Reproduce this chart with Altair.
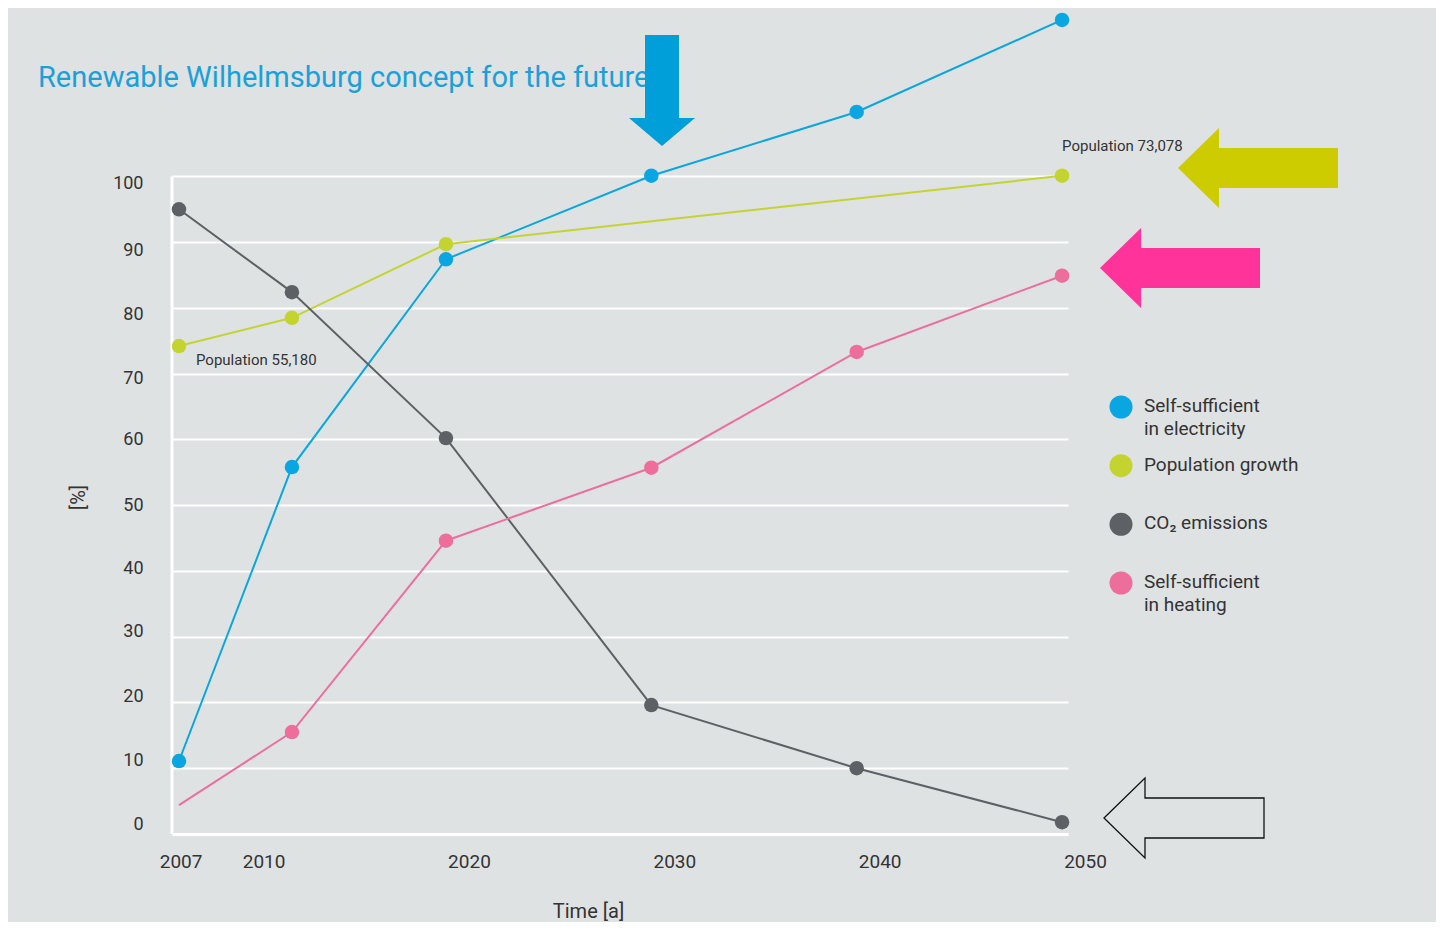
import altair as alt
import pandas as pd

# ---------------- data ----------------
title_text = "Renewable Wilhelmsburg concept for the future"
years = [2007, 2012.5, 2020, 2030, 2040, 2050]
electricity = [11.1, 55.8, 87.4, 100.1, 109.8, 123.8]
population = [74.2, 78.5, 89.7, None, None, 100.1]
co2 = [95.0, 82.4, 60.2, 19.6, 10.0, 1.8]
heating = [4.4, 15.5, 44.6, 55.7, 73.3, 84.9]
heating_marker = [False, True, True, True, True, True]

series_names = ["Self-sufficient in electricity", "Population growth",
                "CO2 emissions", "Self-sufficient in heating"]
legend_labels = ["Self-sufficient\nin electricity", "Population growth",
                 "CO\u2082 emissions", "Self-sufficient\nin heating"]
series_colors = ["#0aa6e2", "#c3d431", "#5d6065", "#ee6e9b"]

x_ticks = [2007, 2010, 2020, 2030, 2040, 2050]
y_ticks = list(range(0, 101, 10))
pop_start_label = "Population 55,180"
pop_end_label = "Population 73,078"
x_title = "Time [a]"
y_title = "[%]"

# ---------------- table ----------------
rows = []
for name, vals in zip(series_names, [electricity, population, co2, heating]):
    for i, (yr, v) in enumerate(zip(years, vals)):
        if v is None:
            continue
        marker = heating_marker[i] if name == series_names[3] else True
        rows.append({"series": name, "year": yr, "value": v, "marker": marker})
df = pd.DataFrame(rows)

legend_df = pd.DataFrame({"series": series_names, "label": legend_labels})
ann_df = pd.DataFrame([
    {"year": years[0], "value": population[0], "label": pop_start_label, "pos": "start"},
    {"year": years[-1], "value": population[-1], "label": pop_end_label, "pos": "end"},
])
title_df = pd.DataFrame({"t": [title_text]})
one = pd.DataFrame({"k": [0]})

FONT = "Roboto"
TXT = "#333333"
BG = "#dfe2e3"

x_scale = alt.Scale(domain=[2006.66, 2050.29], nice=False, zero=False)
y_scale = alt.Scale(domain=[0, 125], nice=False)
color_scale = alt.Scale(domain=series_names, range=series_colors)

# the printed y labels drift slightly from their grid lines (as in the original)
y_label_offsets = {100: 7, 90: 8, 80: 7, 70: 5, 60: 0, 50: 0, 40: -2, 30: -5, 20: -6, 10: -8, 0: -10}
y_label_offset = {
    "condition": [{"test": f"datum.value == {k}", "value": v} for k, v in y_label_offsets.items()],
    "value": 0,
}

x_axis = alt.Axis(values=x_ticks, format="d", grid=False, ticks=False,
                  domainColor="white", domainWidth=3,
                  labelFontSize=19, labelColor=TXT, labelFont=FONT,
                  labelPadding=18, labelOffset=23,
                  labelAlign={"condition": {"test": "datum.value == 2007", "value": "right"},
                              "value": "center"},
                  title=x_title, titleFontSize=20, titleFontWeight="normal",
                  titleColor=TXT, titleFont=FONT, titleX=416, titleY=77,
                  titleBaseline="middle", titleAlign="center")
y_axis = alt.Axis(values=y_ticks, grid=True, gridColor="white", gridWidth=2,
                  domain=False, ticks=False,
                  labelFontSize=18, labelColor=TXT, labelFont=FONT, labelPadding=29,
                  labelOffset=y_label_offset,
                  title=y_title, titleFontSize=20, titleFontWeight="normal",
                  titleColor=TXT, titleFont=FONT, titleX=-94, titleY=485,
                  titleBaseline="middle", titleAlign="center", titleAngle=-90)

base = alt.Chart(df).encode(
    x=alt.X("year:Q", scale=x_scale, axis=x_axis),
    y=alt.Y("value:Q", scale=y_scale, axis=y_axis),
    color=alt.Color("series:N", scale=color_scale, legend=None),
)

lines = base.mark_line(strokeWidth=2)
points = base.transform_filter("datum.marker").mark_circle(size=210, opacity=1)

y_domain_line = alt.Chart(one).mark_rule(color="white", strokeWidth=3).encode(
    x=alt.value(0), y=alt.datum(0, scale=y_scale), y2=alt.datum(100)
)

ann_start = alt.Chart(ann_df).transform_filter("datum.pos == 'start'").mark_text(
    align="left", baseline="middle", dx=17, dy=14, fontSize=15, font=FONT, color=TXT
).encode(x=alt.X("year:Q", scale=x_scale), y=alt.Y("value:Q", scale=y_scale), text="label:N")
ann_end = alt.Chart(ann_df).transform_filter("datum.pos == 'end'").mark_text(
    align="left", baseline="middle", dx=0, dy=-30, fontSize=15, font=FONT, color=TXT
).encode(x=alt.X("year:Q", scale=x_scale), y=alt.Y("value:Q", scale=y_scale), text="label:N")

title = alt.Chart(title_df).mark_text(
    align="left", baseline="middle", fontSize=29, font=FONT, color="#1aa0da"
).encode(x=alt.value(-134), y=alt.value(66), text="t:N")

down_path = "M0,0L-33,-28L-17,-28L-17,-111L17,-111L17,-28L33,-28Z"
left_path = "M0,0L41,-40L41,-20L160,-20L160,20L41,20L41,40Z"

arrow_blue = alt.Chart(one).mark_point(shape=down_path, size=4, filled=True,
                                       opacity=1, color="#009fda").encode(
    x=alt.value(490), y=alt.value(134))
arrow_green = alt.Chart(one).mark_point(shape=left_path, size=4, filled=True,
                                        opacity=1, color="#cccc00").encode(
    x=alt.value(1006), y=alt.value(156))
arrow_pink = alt.Chart(one).mark_point(shape=left_path, size=4, filled=True,
                                       opacity=1, color="#ff3399").encode(
    x=alt.value(928), y=alt.value(256))
arrow_white = alt.Chart(one).mark_point(shape=left_path, size=4, filled=False,
                                        opacity=1, stroke="#111111", strokeWidth=1.3).encode(
    x=alt.value(932), y=alt.value(806))

main = alt.layer(y_domain_line, lines, points, ann_start, ann_end, title,
                 arrow_blue, arrow_green, arrow_pink, arrow_white)

leg_y = alt.Y("series:N", scale=alt.Scale(type="point", domain=series_names,
                                          range=[395, 571], padding=0), axis=None)
legend_dots = alt.Chart(legend_df).mark_circle(size=530, opacity=1).encode(
    x=alt.value(949), y=leg_y,
    color=alt.Color("series:N", scale=color_scale, legend=None))
legend_text = alt.Chart(legend_df).mark_text(
    align="left", baseline="top", dy=-10, lineBreak="\n", lineHeight=23,
    fontSize=19, font=FONT, color=TXT
).encode(x=alt.value(972), y=leg_y, text="label:N")

chart = alt.layer(main, legend_dots, legend_text).resolve_scale(y="independent").properties(
    width=896, height=822,
    padding={"left": 164, "top": 4, "right": 368, "bottom": 88},
    autosize="none",
    background=BG,
).configure_view(stroke=None)

chart.save("out.html", embed_options={"renderer": "svg", "actions": False})
